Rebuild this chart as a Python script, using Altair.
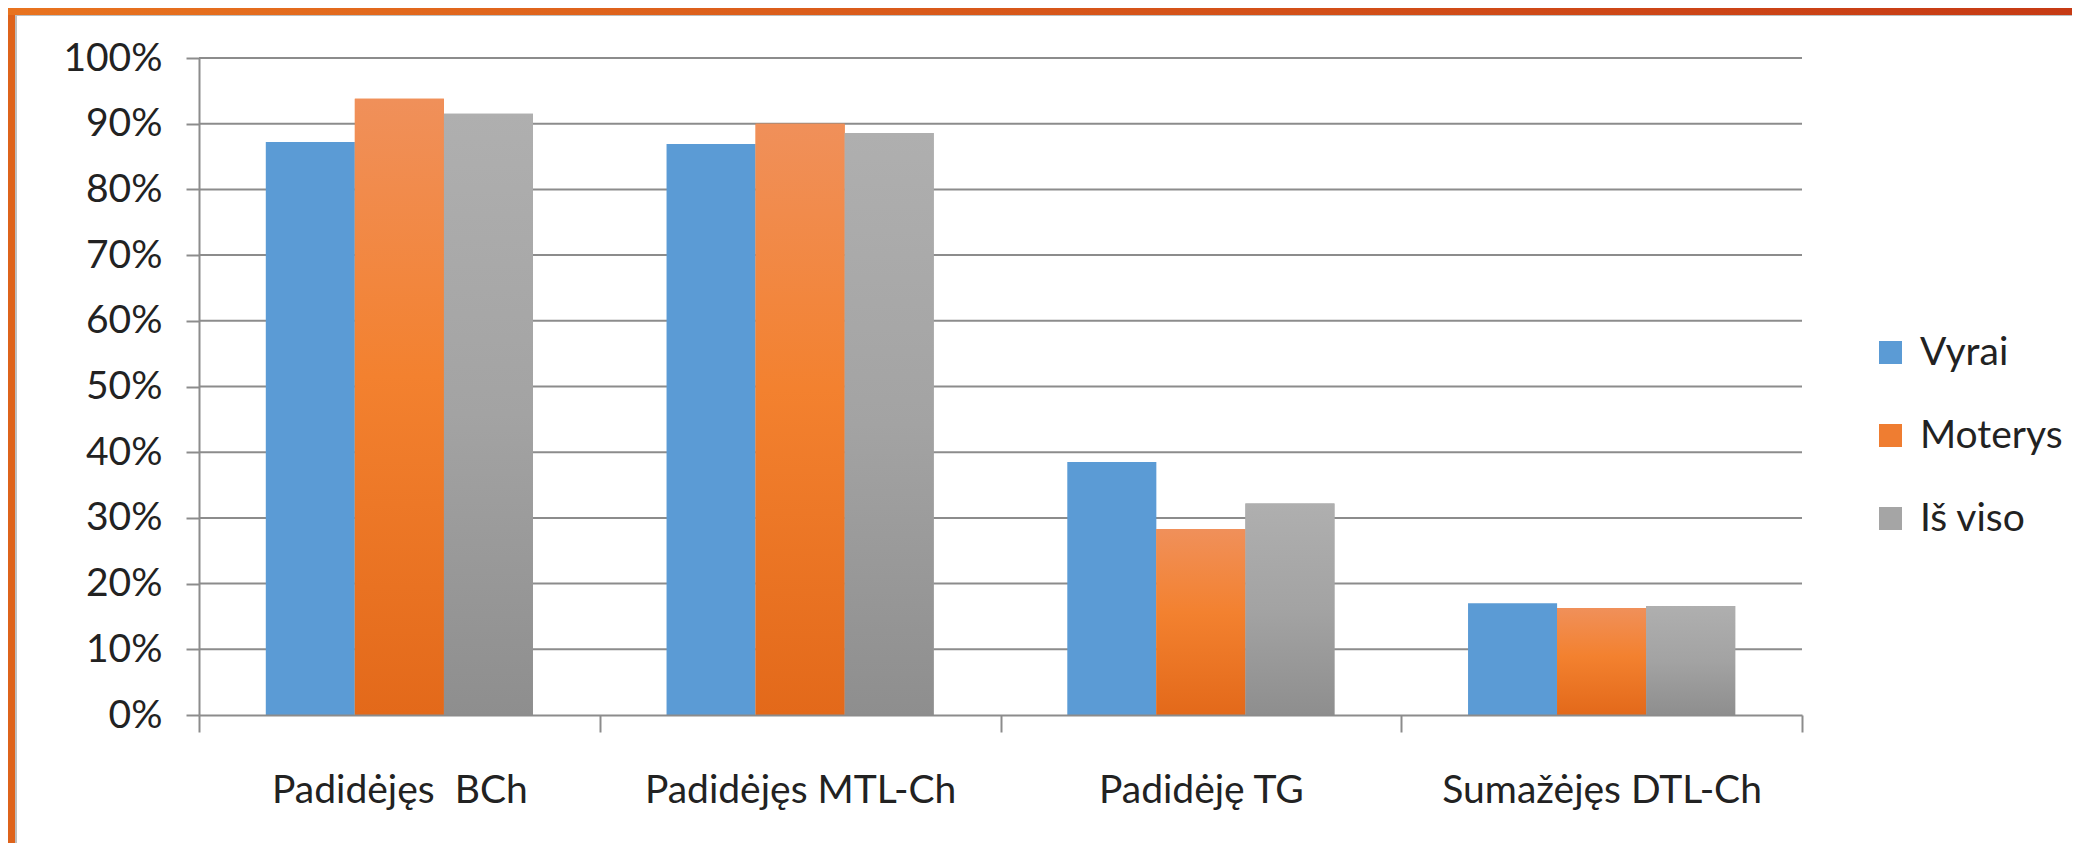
import altair as alt
import pandas as pd

# ---- data ----
categories = ["Padidėjęs\u00a0 BCh", "Padidėjęs MTL-Ch", "Padidėję TG", "Sumažėjęs DTL-Ch"]
series = ["Vyrai", "Moterys", "Iš viso"]
vyrai = [0.872, 0.869, 0.385, 0.170]
moterys = [0.938, 0.900, 0.283, 0.163]
is_viso = [0.915, 0.886, 0.322, 0.166]
y_ticks = [0.0, 0.1, 0.2, 0.3, 0.4, 0.5, 0.6, 0.7, 0.8, 0.9, 1.0]

rows = []
for s, vals in zip(series, [vyrai, moterys, is_viso]):
    for c, v in zip(categories, vals):
        rows.append({"cat": c, "series": s, "value": v})
df = pd.DataFrame(rows)

# ---- style ----
W, H = 1603, 657
PAD = {"left": 191, "top": 50, "right": 270, "bottom": 128}
grid_color = "#8C8C8C"
font = "Lato"
text_color = "#222222"
fs = 39

blue = "#5B9BD5"
orange_solid = "#EF7D31"
grey_solid = "#A5A5A5"

orange_grad = alt.LinearGradient(
    gradient="linear",
    stops=[alt.GradientStop(color="#F0905A", offset=0),
           alt.GradientStop(color="#F3812F", offset=0.45),
           alt.GradientStop(color="#E3691A", offset=1)],
    x1=0, x2=0, y1=0, y2=1)
grey_grad = alt.LinearGradient(
    gradient="linear",
    stops=[alt.GradientStop(color="#AFAFAF", offset=0),
           alt.GradientStop(color="#A3A3A3", offset=0.5),
           alt.GradientStop(color="#8E8E8E", offset=1)],
    x1=0, x2=0, y1=0, y2=1)
top_grad = alt.LinearGradient(
    gradient="linear",
    stops=[alt.GradientStop(color="#E8731F", offset=0),
           alt.GradientStop(color="#C63A14", offset=1)],
    x1=0, x2=1, y1=0, y2=0)

x_enc = alt.X(
    "cat:N", sort=categories,
    scale=alt.Scale(type="band", paddingInner=0, paddingOuter=0),
    axis=alt.Axis(title=None, labelAngle=0, tickBand="extent", tickSize=17, tickWidth=2,
                  tickColor=grid_color, domainColor=grid_color, domainWidth=2,
                  labelFont=font, labelFontSize=fs, labelColor=text_color,
                  labelPadding=58, labelBaseline="middle", labelLimit=0,
                  grid=False, zindex=1))
y_enc = alt.Y(
    "value:Q",
    scale=alt.Scale(domain=[0, 1], nice=False, zero=True),
    axis=alt.Axis(title=None, values=y_ticks, format=".0%", grid=False,
                  tickSize=13, tickWidth=2, tickColor=grid_color,
                  domainColor=grid_color, domainWidth=2,
                  labelFont=font, labelFontSize=fs, labelColor=text_color,
                  labelPadding=24, zindex=1))
xoff = alt.XOffset("series:N", sort=series,
                   scale=alt.Scale(domain=series, paddingInner=0, paddingOuter=0.75))
color = alt.Color(
    "series:N", sort=series,
    scale=alt.Scale(domain=series, range=[blue, orange_solid, grey_solid]),
    legend=alt.Legend(title=None, orient="none", legendX=1672, legendY=275,
                      symbolType="square", symbolSize=529, symbolStrokeWidth=0,
                      labelFont=font, labelFontSize=fs, labelColor=text_color,
                      labelOffset=10, rowPadding=43, padding=0, labelLimit=400))

one = pd.DataFrame({"k": [0]})
panel = alt.Chart(one).mark_rect(fill="white", stroke="#BEBEBE", strokeWidth=2).encode(
    x=alt.value(-183), x2=alt.value(W + 400), y=alt.value(-43), y2=alt.value(H + 300))
band = alt.Chart(one).mark_rect(color=top_grad).encode(
    x=alt.value(-191), x2=alt.value(W + 280), y=alt.value(-50), y2=alt.value(-43))

gridlines = alt.Chart(pd.DataFrame({"value": y_ticks[1:]})).mark_rule(
    color=grid_color, strokeWidth=2).encode(y=y_enc, x=alt.value(0), x2=alt.value(W))

base = alt.Chart(df)
bars_all = base.mark_bar().encode(x=x_enc, xOffset=xoff, y=y_enc, color=color)
bars_m = base.transform_filter(alt.datum.series == "Moterys").mark_bar(color=orange_grad).encode(
    x=x_enc, xOffset=xoff, y=y_enc)
bars_g = base.transform_filter(alt.datum.series == "Iš viso").mark_bar(color=grey_grad).encode(
    x=x_enc, xOffset=xoff, y=y_enc)

chart = alt.layer(panel, band, gridlines, bars_all, bars_m, bars_g).properties(
    width=W, height=H,
    autosize=alt.AutoSizeParams(type="none"),
    padding=PAD,
    background="#DE631B",
).configure_view(stroke=None)

chart.save("out.html", embed_options={"renderer": "svg", "actions": False})
